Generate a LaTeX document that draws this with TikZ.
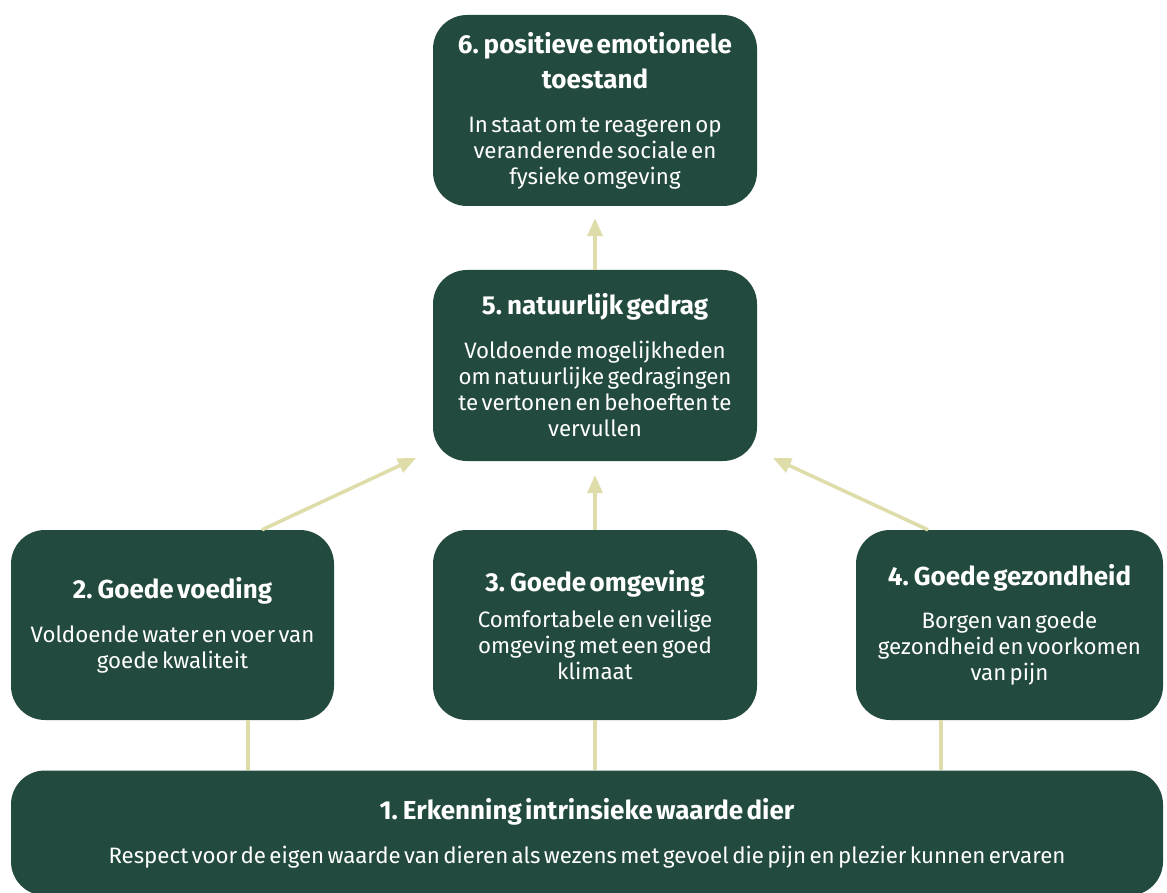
\documentclass[tikz,border=0pt]{standalone}
\usepackage{fontspec}
\setmainfont{Fira Sans}
\usetikzlibrary{arrows.meta}
\definecolor{boxgreen}{HTML}{234A3F}
\definecolor{linek}{HTML}{DEDCA9}
\newcommand{\ttl}[1]{{\fontsize{26}{35}\selectfont\bfseries #1\par}}
\newcommand{\bdy}[1]{{\fontsize{22.3}{26}\selectfont #1\par}}
\begin{document}
\begin{tikzpicture}[x=1pt,y=-1pt,
  box/.style={fill=boxgreen, rounded corners=34pt, inner sep=0pt, text=white, align=center},
  conn/.style={draw=linek, line width=3.5pt},
  arr/.style={conn, -{Triangle[length=18pt,width=15pt]}}]
\useasboundingbox[fill=white] (0,0) rectangle (1167,893);
\node[box, text width=318pt, minimum width=324pt, minimum height=191pt] (b6) at (595,110.5)
  {\ttl{6. positieve emotionele\\toestand}\vspace{18pt}\bdy{In staat om te reageren op\\veranderende sociale en\\fysieke omgeving}};
\node[box, text width=318pt, minimum width=324pt, minimum height=191pt] (b5) at (595,365.5)
  {\ttl{5. natuurlijk gedrag}\vspace{18pt}\bdy{Voldoende mogelijkheden\\om natuurlijke gedragingen\\te vertonen en behoeften te\\vervullen}};
\node[box, text width=318pt, minimum width=323pt, minimum height=190pt] (b2) at (172.5,625)
  {\ttl{2. Goede voeding}\vspace{18pt}\bdy{Voldoende water en voer van\\goede kwaliteit}};
\node[box, text width=318pt, minimum width=324pt, minimum height=190pt] (b3) at (595,625)
  {\ttl{3. Goede omgeving}\vspace{10pt}\bdy{Comfortabele en veilige\\omgeving met een goed\\klimaat}};
\node[box, text width=302pt, minimum width=307pt, minimum height=190pt] (b4) at (1009.5,625)
  {\ttl{4. Goede gezondheid}\vspace{17pt}\bdy{Borgen van goede\\gezondheid en voorkomen\\van pijn}};
\node[box, text width=1140pt, minimum width=1152pt, minimum height=125pt] (b1) at (587,833)
  {\ttl{1. Erkenning intrinsieke waarde dier}\vspace{18pt}\bdy{Respect voor de eigen waarde van dieren als wezens met gevoel die pijn en plezier kunnen ervaren}};
\coordinate (t2) at (416,458);
\coordinate (t4) at (773,458);
\draw[arr, shorten >=12pt] (b5.north) -- (b6.south);
\draw[arr, shorten >=14pt] (b3.north) -- (b5.south);
\draw[arr] ([xshift=89.5pt]b2.north) -- (t2);
\draw[arr] ([xshift=-81.5pt]b4.north) -- (t4);
\draw[conn] ([xshift=75.5pt]b2.south) -- ([xshift=75.5pt]b2.south |- b1.north);
\draw[conn] (b3.south) -- (b1.north -| b3.south);
\draw[conn] ([xshift=-68.5pt]b4.south) -- ([xshift=-68.5pt]b4.south |- b1.north);
\end{tikzpicture}
\end{document}
